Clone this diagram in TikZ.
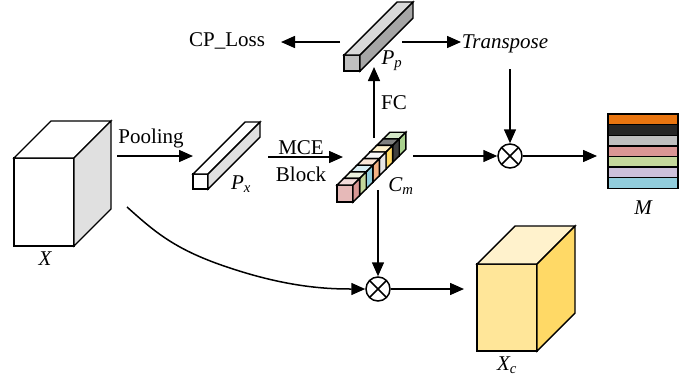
\documentclass[tikz,border=0pt]{standalone}
\usepackage{fontspec}
\setmainfont{Liberation Serif}
\usetikzlibrary{arrows.meta}
% box: x,y (front top-left), w, h, depth, front, top, side
\newcommand{\mybox}[8]{%
  \draw[boxline,fill=#6] (#1,#2) rectangle ++(#3,#4);
  \draw[boxline,fill=#7] (#1,#2) -- ++(#5,-#5) -- ++(#3,0) -- ++(-#5,#5) -- cycle;
  \draw[boxline,fill=#8] (#1+#3,#2) -- ++(#5,-#5) -- ++(0,#4) -- ++(-#5,#5) -- cycle;
}
\definecolor{cpink}{HTML}{E6B9B8}
\definecolor{cpinkd}{HTML}{D99694}
\definecolor{cpinkl}{HTML}{F2DCDB}
\definecolor{cgreen}{HTML}{C4D79B}
\definecolor{cgreenl}{HTML}{EBF1DE}
\definecolor{cblue}{HTML}{92CDDC}
\definecolor{cbluel}{HTML}{DAEEF3}
\definecolor{csalmon}{HTML}{F4B183}
\definecolor{csalmonl}{HTML}{FBE5D6}
\definecolor{cwhite}{HTML}{E7E6E6}
\definecolor{cwhitel}{HTML}{F7F7F7}
\definecolor{cyel}{HTML}{FFD966}
\definecolor{cyell}{HTML}{FFF2CC}
\definecolor{cdark}{HTML}{404040}
\definecolor{cdarkl}{HTML}{808080}
\definecolor{cgreen2}{HTML}{A9D18E}
\definecolor{cgreen2l}{HTML}{D5E8C8}
\definecolor{morange}{HTML}{E97510}
\definecolor{mblack}{HTML}{262626}
\definecolor{mgray}{HTML}{BFBFBF}
\definecolor{mpink}{HTML}{DA9694}
\definecolor{mgreen}{HTML}{C4D79B}
\definecolor{mlav}{HTML}{CCC0DA}
\definecolor{mcyan}{HTML}{92CDDC}
\definecolor{xcfront}{HTML}{FFE699}
\definecolor{xctop}{HTML}{FFF2CC}
\definecolor{xcside}{HTML}{FFD966}
\begin{document}
\begin{tikzpicture}[x=1pt,y=-1pt,
  boxline/.style={line width=1.4pt,draw=black},
  arr/.style={line width=1.5pt,-{Triangle[length=14pt,width=12pt]}},
  lbl/.style={font=\fontsize{21}{24}\selectfont,inner sep=0pt},
  otimes/.style={circle,draw,line width=1.5pt,minimum size=24pt,inner sep=0pt,
    path picture={\draw[line width=1.5pt] (path picture bounding box.north west) -- (path picture bounding box.south east)
                  (path picture bounding box.north east) -- (path picture bounding box.south west);}}]
\useasboundingbox (0,0) rectangle (692,381);

% X cube
\mybox{14}{158}{60}{88}{37}{white}{white}{black!12}
\node[lbl] (Xl) at (45,259) {\itshape X};

% P_x bar
\mybox{193}{174}{15}{15}{52}{white}{white}{black!12}
\node[lbl] (Pxl) at (241,184) {\itshape P\textsubscript{\itshape x}};

% C_m bar (back to front)
\foreach \i/\fr/\tp/\sd in {7/cgreen2/cgreen2l/cgreen2,6/cdark/cdarkl/cdark,5/cyel/cyell/cyel,4/cwhite/cwhitel/cwhite,3/csalmon/csalmonl/csalmon,2/cblue/cbluel/cblue,1/cgreen/cgreenl/cgreen,0/cpink/cpinkl/cpinkd}{
  \mybox{337+6.6*\i}{185-6.6*\i}{16}{17}{6.6}{\fr}{\tp}{\sd}
}
\node[lbl] (Cml) at (401,186) {\itshape C\textsubscript{\itshape m}};

% P_p bar
\mybox{344}{55}{16}{16}{53}{black!25}{black!15}{black!35}
\node[lbl] (Ppl) at (392,61) {\itshape P\textsubscript{\itshape p}};

% M stack
\foreach \c [count=\k from 0] in {morange,mblack,mgray,mpink,mgreen,mlav,mcyan}{
  \draw[line width=1.4pt,fill=\c] (608,114+10.6*\k) rectangle ++(70,10.6);
}
\node[lbl] (Ml) at (643,208) {\itshape M};

% X_c cube
\mybox{477}{264}{60}{87}{38}{xcfront}{xctop}{xcside}
\node[lbl] (Xcl) at (507,365) {\itshape X\textsubscript{\itshape c}};

% text labels
\node[lbl] (pool) at (151,138) {Pooling};
\node[lbl] (mce) at (301,148) {MCE};
\node[lbl] (blk) at (301,174) {Block};
\node[lbl] (fc) at (394,103) {FC};
\node[lbl] (cpl) at (227,41) {CP\_Loss};
\node[lbl] (tr) at (505,44) {\itshape Transpose};

% multiplication nodes
\node[otimes] (m1) at (510,156) {};
\node[otimes] (m2) at (378,289) {};

% anchor coordinates
\coordinate (xr) at (117,156);
\coordinate (pxin) at (193,156);
\coordinate (pxr) at (268,157);
\coordinate (cmin) at (343,157);
\coordinate (cmtop) at (374,138);
\coordinate (ppbot) at (374,67);
\coordinate (ppl) at (340,42);
\coordinate (cpin) at (281,42);
\coordinate (ppr) at (402,42);
\coordinate (trin) at (461,42);
\coordinate (trbot) at (510,69);
\coordinate (cmr) at (413,156);
\coordinate (min) at (597,156);
\coordinate (cmbot) at (378,190);
\coordinate (xbot) at (127,207);
\coordinate (xcin) at (464,289);

% connectors
\draw[arr] (xr) -- (pxin);
\draw[arr] (pxr) -- (cmin);
\draw[arr] (cmtop) -- (ppbot);
\draw[arr] (ppl) -- (cpin);
\draw[arr] (ppr) -- (trin);
\draw[arr] (trbot) -- (m1.north);
\draw[arr] (cmr) -- (m1.west);
\draw[arr] (m1.east) -- (min);
\draw[arr] (cmbot) -- (m2.north);
\draw[arr] (xbot) .. controls (155,232) and (175,250) .. (230,268) .. controls (290,288) and (330,289) .. (m2.west);
\draw[arr] (m2.east) -- (xcin);
\end{tikzpicture}
\end{document}
